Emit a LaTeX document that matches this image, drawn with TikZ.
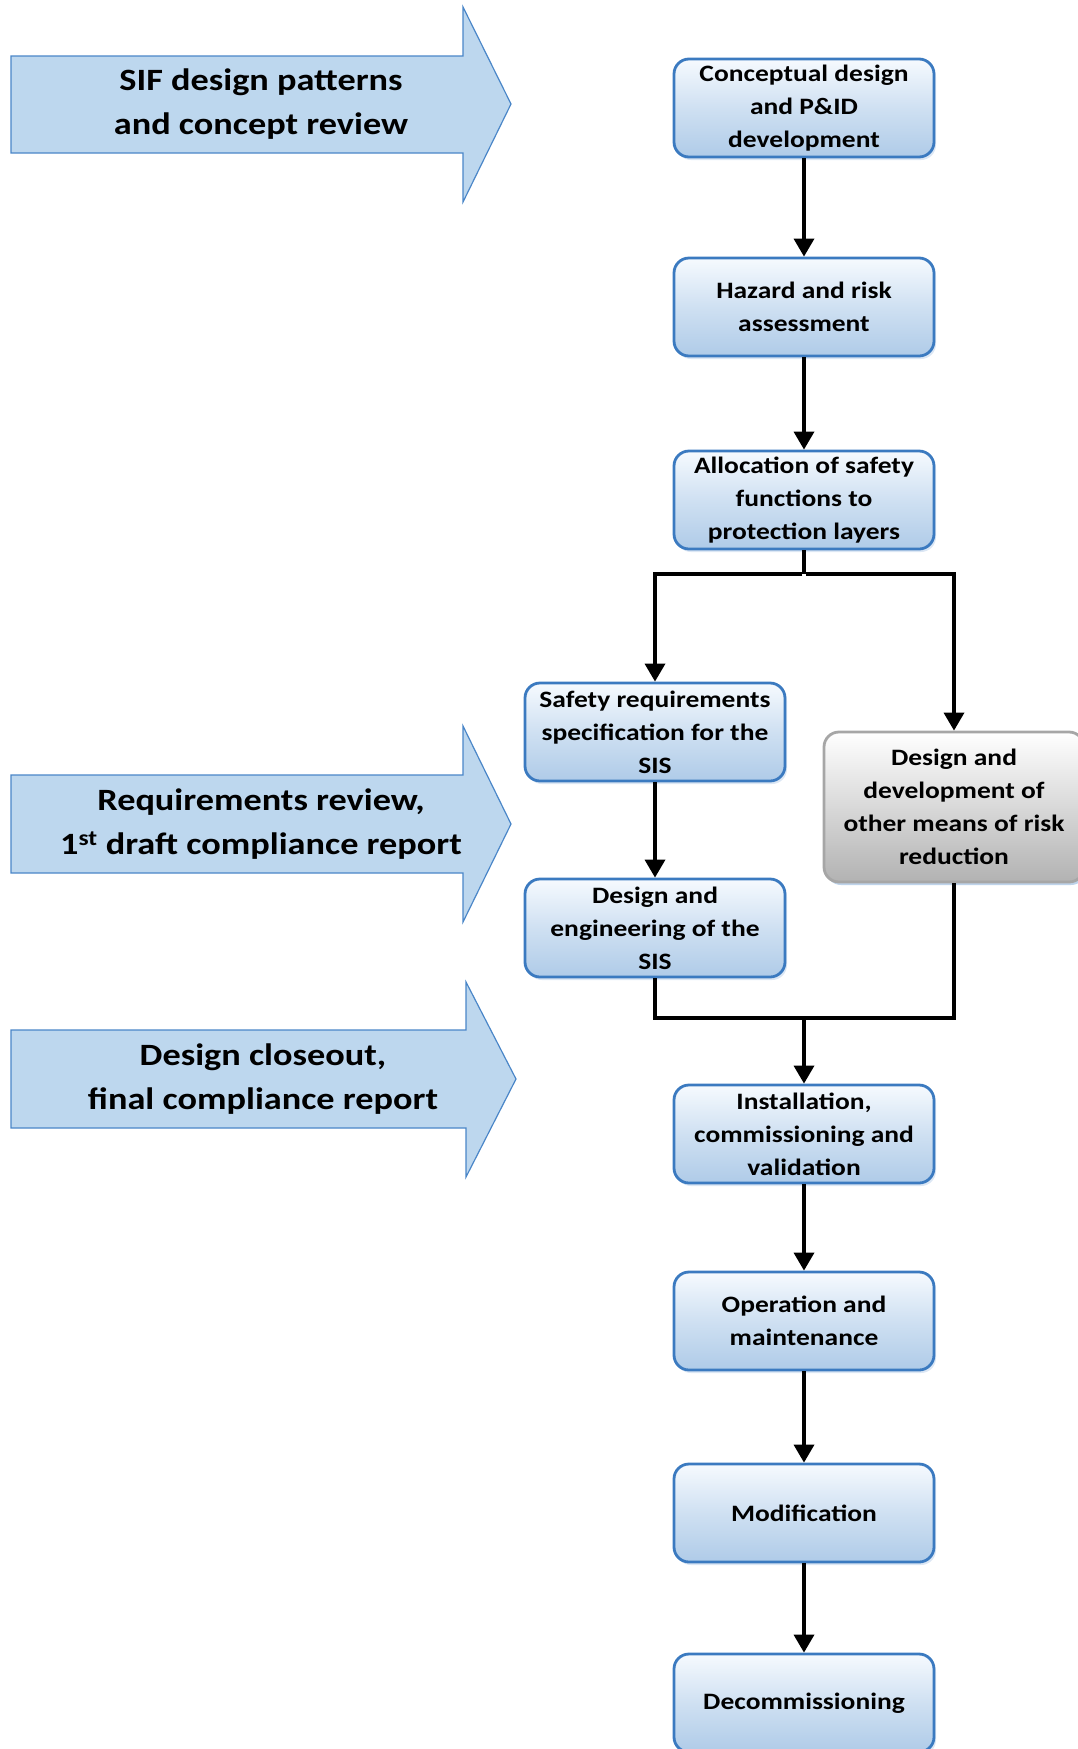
\documentclass[tikz,border=0pt]{standalone}
\usepackage{fontspec}
\setmainfont{Carlito}[FakeStretch=1.17]
\usetikzlibrary{arrows.meta,shadows}
\definecolor{boxline}{HTML}{3B7AC0}
\definecolor{boxtop}{HTML}{F6FAFE}
\definecolor{boxbot}{HTML}{AFCBE8}
\definecolor{greyline}{HTML}{A6A6A6}
\definecolor{greybot}{HTML}{B2B2B2}
\definecolor{arrfill}{HTML}{BDD7EE}
\definecolor{arrline}{HTML}{4A86C8}
\tikzset{
  stagebox/.style={draw=boxline, line width=2.8pt, rounded corners=15pt,
    top color=boxtop, bottom color=boxbot, middle color=boxtop!45!boxbot,
    minimum width=260pt, minimum height=98pt, align=center,
    font=\fontsize{23.5}{33}\selectfont\bfseries, inner sep=2pt,
    drop shadow={opacity=0.18, shadow xshift=2pt, shadow yshift=-3pt, fill=boxline}},
  greybox/.style={stagebox, draw=greyline, top color=white, bottom color=greybot,
    middle color=white!50!greybot, minimum height=150pt,
    drop shadow={opacity=0.18, shadow xshift=2pt, shadow yshift=-3pt, fill=boxline}},
  bigarrow/.style={fill=arrfill, draw=arrline, line width=1.2pt, line join=miter},
  arrtext/.style={align=center, font=\fontsize{31}{44}\selectfont\bfseries},
  conn/.style={line width=3.5pt, -{Triangle[width=20pt,length=18pt]}},
  plain/.style={line width=3.5pt}
}
\begin{document}
\begin{tikzpicture}[x=1pt,y=-1pt]
\useasboundingbox (0,0) rectangle (1078,1749);
% left arrows
\draw[bigarrow] (11,56) -- (463,56) -- (463,7) -- (511,104) -- (463,202) -- (463,153) -- (11,153) -- cycle;
\node[arrtext] (a1) at (261,104) {SIF design patterns\\and concept review};
\draw[bigarrow] (11,775) -- (463,775) -- (463,726) -- (511,824) -- (463,922) -- (463,873) -- (11,873) -- cycle;
\node[arrtext] (a2) at (261,824) {Requirements review,\\1\textsuperscript{st} draft compliance report};
\draw[bigarrow] (11,1030) -- (466,1030) -- (466,982) -- (516,1079) -- (466,1177) -- (466,1128) -- (11,1128) -- cycle;
\node[arrtext] (a3) at (263,1079) {Design closeout,\\final compliance report};
% boxes
\node[stagebox] (b1) at (804,108) {Conceptual design\\and P\&ID\\development};
\node[stagebox] (b2) at (804,307) {Hazard and risk\\assessment};
\node[stagebox] (b3) at (804,500) {Allocation of safety\\functions to\\protection layers};
\node[stagebox] (srs) at (655,732) {Safety requirements\\specification for the\\SIS};
\node[stagebox] (de) at (655,928) {Design and\\engineering of the\\SIS};
\node[greybox] (oth) at (954,807) {Design and\\development of\\other means of risk\\reduction};
\node[stagebox] (inst) at (804,1134) {Installation,\\commissioning and\\validation};
\node[stagebox] (op) at (804,1321) {Operation and\\maintenance};
\node[stagebox] (mod) at (804,1513) {Modification};
\node[stagebox] (dec) at (804,1703) {Decommissioning};
% connectors
\coordinate (split) at (804,574);
\coordinate (join) at (804,1018);
\draw[conn] (b1) -- (b2);
\draw[conn] (b2) -- (b3);
\draw[plain] (b3.south) -- (split);
\draw[conn] ([xshift=-1.75pt]split) -| (srs);
\draw[conn] ([xshift=1.75pt]split) -| (oth);
\draw[conn] (srs) -- (de);
\draw[plain] (de.south) |- ([xshift=1.75pt]join);
\draw[plain] (oth.south) |- ([xshift=-1.75pt]join);
\draw[conn] (join) -- (inst);
\draw[conn] (inst) -- (op);
\draw[conn] (op) -- (mod);
\draw[conn] (mod) -- (dec);
\end{tikzpicture}
\end{document}
